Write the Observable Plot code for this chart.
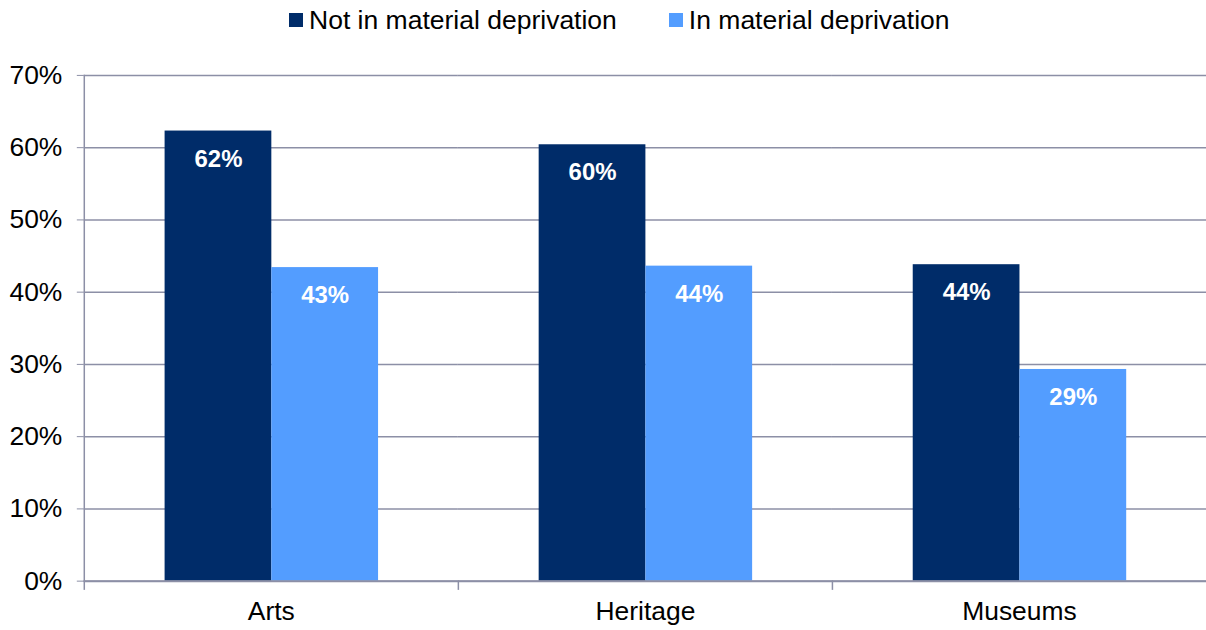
<!DOCTYPE html>
<html>
<head>
<meta charset="utf-8">
<script src="https://cdn.jsdelivr.net/npm/d3@7"></script>
<script src="https://cdn.jsdelivr.net/npm/@observablehq/plot@0.6"></script>
<style>
  body { margin: 0; background: #fff; font-family: "Liberation Sans", Arial, sans-serif; overflow: hidden; }
  #legend { height: 40px; display: flex; align-items: center; padding-left: 289px; box-sizing: border-box; font-size: 26.5px; color: #000; }
  .item { display: flex; align-items: center; }
  .sw { width: 14px; height: 14px; margin-right: 6px; }
  .item + .item { margin-left: 52px; }
</style>
</head>
<body>
<div id="legend"></div>
<div id="chart"></div>
<script>
const categories = ["Arts", "Heritage", "Museums"];
const series = ["Not in material deprivation", "In material deprivation"];
const notDeprived = [62.3, 60.4, 43.8];
const deprived = [43.4, 43.6, 29.3];
const yTicks = [0, 10, 20, 30, 40, 50, 60, 70];
const colors = ["#002C69", "#539DFF"];

const data = [];
categories.forEach((c, i) => {
  data.push({category: c, series: series[0], value: notDeprived[i]});
  data.push({category: c, series: series[1], value: deprived[i]});
});

const legend = document.getElementById("legend");
series.forEach((s, i) => {
  const item = document.createElement("div");
  item.className = "item";
  item.innerHTML = `<span class="sw" style="background:${colors[i]}"></span><span>${s}</span>`;
  legend.appendChild(item);
});

const grid = "#8C8FA6";
const chart = Plot.plot({
  width: 1209,
  height: 590,
  marginTop: 35,
  marginBottom: 48,
  marginLeft: 84,
  marginRight: 0,
  style: {fontFamily: "'Liberation Sans', Arial, sans-serif", color: "#000", background: "#fff", overflow: "visible"},
  fx: {domain: categories, padding: 0},
  x: {domain: series, paddingInner: 0, paddingOuter: 0.75, axis: null},
  y: {domain: [0, 70]},
  color: {domain: series, range: colors},
  marks: [
    Plot.gridY(yTicks, {stroke: grid, strokeOpacity: 1, strokeWidth: 1.5}),
    Plot.frame({anchor: "left", stroke: grid, strokeWidth: 1.5, insetTop: 507, insetBottom: -8}),
    Plot.frame({anchor: "left", stroke: grid, strokeWidth: 1.5, fx: [categories[0]]}),
    Plot.barY(data, {fx: "category", x: "series", y: "value", fill: "series"}),
    Plot.text(data, {fx: "category", x: "series", y: "value", text: d => Math.round(d.value) + "%", dy: 28, fill: "white", fontWeight: "bold", fontSize: 24}),
    Plot.ruleY([0], {stroke: grid, strokeWidth: 2}),
    Plot.axisY(yTicks, {anchor: "left", tickSize: 7, tickPadding: 15, stroke: grid, strokeOpacity: 1, fontSize: 26.5, tickFormat: d => d + "%", label: null}),
    Plot.axisFx({anchor: "bottom", tickSize: 0, tickPadding: 20, fontSize: 26.5, label: null})
  ]
});
document.getElementById("chart").appendChild(chart);
</script>
</body>
</html>
